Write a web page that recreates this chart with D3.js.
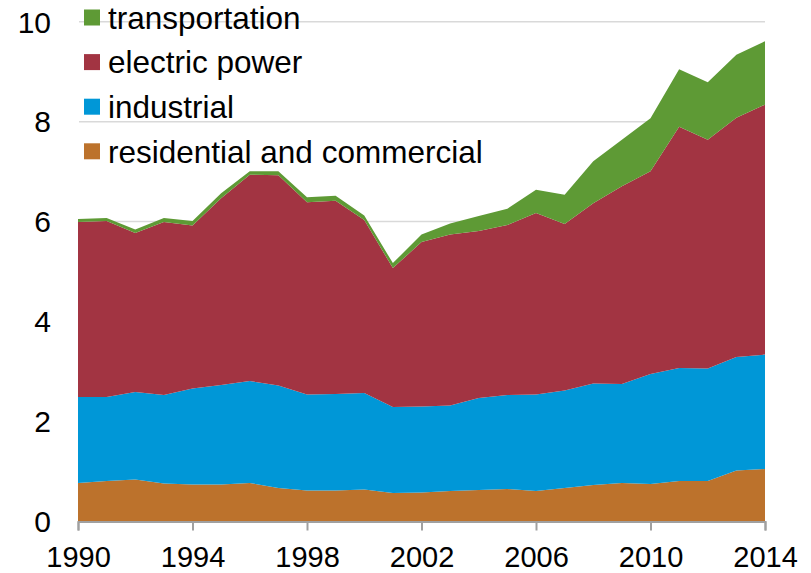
<!DOCTYPE html>
<html>
<head>
<meta charset="utf-8">
<script src="https://cdn.jsdelivr.net/npm/d3@7/dist/d3.min.js"></script>
<style>
  html, body { margin: 0; padding: 0; background: #fff; }
  svg { display: block; font-family: "Liberation Sans", Arial, sans-serif; }
</style>
</head>
<body>
<svg id="chart" width="811" height="573"></svg>
<script>
const years = [1990,1991,1992,1993,1994,1995,1996,1997,1998,1999,2000,2001,2002,2003,2004,2005,2006,2007,2008,2009,2010,2011,2012,2013,2014];
const residential = [0.77,0.81,0.84,0.76,0.74,0.74,0.77,0.67,0.62,0.62,0.64,0.57,0.58,0.61,0.63,0.65,0.61,0.67,0.73,0.77,0.75,0.81,0.81,1.02,1.05];
const industrial = [1.72,1.68,1.75,1.77,1.92,1.99,2.04,2.05,1.92,1.93,1.93,1.72,1.72,1.71,1.84,1.88,1.93,1.95,2.03,1.98,2.20,2.26,2.25,2.27,2.29];
const electric = [3.50,3.52,3.18,3.46,3.26,3.74,4.13,4.21,3.85,3.87,3.46,2.78,3.29,3.42,3.34,3.40,3.63,3.33,3.61,3.96,4.06,4.83,4.58,4.79,5.00];
const transportation = [0.06,0.06,0.07,0.08,0.09,0.10,0.07,0.08,0.10,0.10,0.09,0.10,0.15,0.22,0.30,0.33,0.47,0.59,0.84,0.93,1.06,1.15,1.15,1.26,1.27];

const seriesKeys = ["residential", "industrial", "electric", "transportation"];
const seriesLabels = {residential: "residential and commercial", industrial: "industrial", electric: "electric power", transportation: "transportation"};
const seriesColors = {residential: "#BC722C", industrial: "#0097D7", electric: "#A23442", transportation: "#5E9A35"};
const legendOrder = ["transportation", "electric", "industrial", "residential"];
const xTicks = [1990,1994,1998,2002,2006,2010,2014];
const yTicks = [0,2,4,6,8,10];

const rows = years.map((y, i) => ({year: y, residential: residential[i], industrial: industrial[i], electric: electric[i], transportation: transportation[i]}));

const svg = d3.select("#chart");
const x = d3.scaleLinear().domain([1990, 2014]).range([78, 765]);
const y = d3.scaleLinear().domain([0, 10]).range([521.5, 21.7]);

// gridlines
svg.append("g").selectAll("line").data(yTicks.filter(d => d > 0)).join("line")
  .attr("x1", 79).attr("x2", 765)
  .attr("y1", d => y(d)).attr("y2", d => y(d))
  .attr("stroke", "#d9d9d9").attr("stroke-width", 1.5);

const stack = d3.stack().keys(seriesKeys)(rows);
const area = d3.area()
  .x(d => x(d.data.year))
  .y0(d => y(d[0]))
  .y1(d => y(d[1]));

svg.append("g").selectAll("path").data(stack).join("path")
  .attr("d", area)
  .attr("fill", d => seriesColors[d.key]);

// y labels
svg.append("g").selectAll("text").data(yTicks).join("text")
  .attr("x", 51).attr("y", d => y(d))
  .attr("dy", "0.36em")
  .attr("text-anchor", "end")
  .attr("font-size", 30)
  .attr("fill", "#000")
  .text(d => d);

// x axis
const xAxis = d3.axisBottom(x).tickValues(xTicks).tickFormat(d3.format("d")).tickSize(9).tickPadding(10);
const gx = svg.append("g").attr("transform", "translate(0,521.5)").call(xAxis);
gx.select(".domain").attr("stroke", "#a0a0a0").attr("stroke-width", 2);
gx.selectAll(".tick line").attr("stroke", "#a0a0a0").attr("stroke-width", 2);
gx.selectAll(".tick text").attr("font-size", 29).attr("fill", "#000")
  .attr("font-family", "'Liberation Sans', Arial, sans-serif").attr("y", 25).attr("dy", "0.71em");

// legend
const leg = svg.append("g");
legendOrder.forEach((k, i) => {
  const cy = 17.5 + i * 44.6;
  leg.append("rect").attr("x", 84).attr("y", cy - 8).attr("width", 16).attr("height", 16).attr("fill", seriesColors[k]);
  leg.append("text").attr("x", 108).attr("y", cy).attr("dy", "0.36em")
    .attr("font-size", 31.5).attr("fill", "#000").text(seriesLabels[k]);
});
</script>
</body>
</html>
